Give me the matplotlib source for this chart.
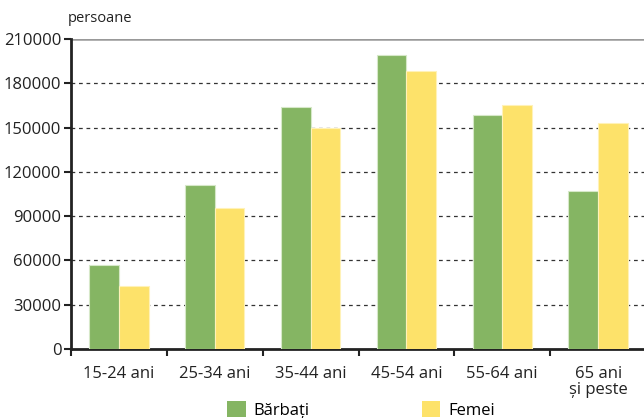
import numpy as np
import matplotlib.pyplot as plt
from matplotlib.patches import Patch

plt.rcParams['font.family'] = ['Open Sans', 'DejaVu Sans']

groups = ["15-24 ani", "25-34 ani", "35-44 ani", "45-54 ani", "55-64 ani", "65 ani\nși peste"]
barbati = [57000, 111000, 164000, 199000, 158500, 107000]
femei = [42700, 95500, 150000, 188300, 165300, 153000]
yticks = [0, 30000, 60000, 90000, 120000, 150000, 180000, 210000]

green = "#85b563"
yellow = "#fde26a"

W, H = 644, 418
fig = plt.figure(figsize=(W / 100, H / 100), dpi=100)
ax = fig.add_axes([71 / W, 1 - 349 / H, (646 - 71) / W, (349 - 39) / H])

x = np.arange(len(groups))
bw = 0.31
ax.bar(x - bw / 2, barbati, bw, color=green, edgecolor="#d6e8c8", linewidth=0.8, zorder=3)
ax.bar(x + bw / 2, femei, bw, color=yellow, edgecolor="#fff2b8", linewidth=0.8, zorder=3)

ax.set_xlim(-0.5, len(groups) - 0.5)
ax.set_ylim(0, 210000)
ax.set_yticks(yticks)
ax.set_yticklabels([str(v) for v in yticks], fontsize=12, color="#222222")
for v in yticks[1:-1]:
    ax.axhline(v, color="#333333", linestyle=(0, (3, 3)), linewidth=0.9, zorder=1)
ax.axhline(210000, color="#999999", linewidth=1.8, zorder=1)

ax.set_xticks(np.arange(len(groups) + 1) - 0.5)
ax.set_xticklabels([])
ax.set_xticks(x, minor=True)
ax.set_xticklabels(groups, minor=True, fontsize=12, color="#222222", linespacing=1.0)
ax.tick_params(axis="x", which="minor", length=0, pad=12)
ax.tick_params(axis="x", which="major", length=5, width=1.5, color="#222222")
ax.tick_params(axis="y", length=5, width=1.5, color="#222222", pad=2)

for s in ["top", "right"]:
    ax.spines[s].set_visible(False)
for s in ["left", "bottom"]:
    ax.spines[s].set_linewidth(2)
    ax.spines[s].set_color("#222222")

fig.text(68 / W, 1 - 18 / H, "persoane", fontsize=10.5, color="#222222", va="center")

handles = [Patch(facecolor=green, edgecolor="none"), Patch(facecolor=yellow, edgecolor="none")]
fig.legend(handles, ["Bărbați", "Femei"], ncol=2, frameon=False, fontsize=12,
           loc="center", bbox_to_anchor=(361 / W, 1 - 410 / H),
           handlelength=1.1, handleheight=1.1, columnspacing=6.7, handletextpad=0.5)

fig.savefig("out.png", dpi=100)
